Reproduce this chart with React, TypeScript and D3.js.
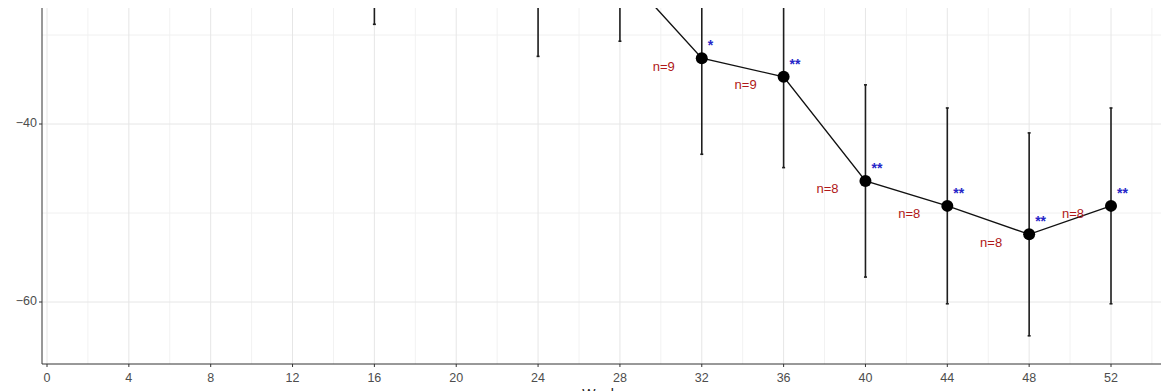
import React from 'react';
import * as d3 from 'd3';

const weeks = [16, 24, 28, 32, 36, 40, 44, 48, 52];
const meanChange = [-20.8, -24.2, -22.5, -32.6, -34.7, -46.4, -49.2, -52.4, -49.2];
const errorSize = [8.0, 8.2, 8.2, 10.8, 10.2, 10.8, 11.0, 11.4, 11.0];
const sigLabels = ['', '', '', '*', '**', '**', '**', '**', '**'];
const nLabels = ['', '', '', 'n=9', 'n=9', 'n=8', 'n=8', 'n=8', 'n=8'];
const xTicks = [0, 4, 8, 12, 16, 20, 24, 28, 32, 36, 40, 44, 48, 52];
const xMinor = [2, 6, 10, 14, 18, 22, 26, 30, 34, 38, 42, 46, 50, 54];
const yTicks = [-40, -60];
const yMinor = [-30, -50];
const xTitle = 'Week';

const W = 1161;
const H = 391;
const panel = { left: 42, right: 1161, top: 8, bottom: 364 };
const font = '"Liberation Sans", Arial, Helvetica, sans-serif';

export default function App() {
  const x = d3.scaleLinear().domain([0, 52]).range([47, 1111]);
  const y = d3.scaleLinear().domain([-40, -60]).range([124, 302]);

  const data = weeks.map((w, i) => ({
    w,
    m: meanChange[i],
    e: errorSize[i],
    sig: sigLabels[i],
    n: nLabels[i],
  }));

  const line = d3
    .line<{ w: number; m: number }>()
    .x((d) => x(d.w))
    .y((d) => y(d.m));

  return (
    <svg
      width={W}
      height={H}
      style={{ position: 'absolute', left: 0, top: 0, background: '#fff' }}
      fontFamily={font}
    >
      <defs>
        <clipPath id="panel-clip">
          <rect
            x={panel.left}
            y={panel.top}
            width={panel.right - panel.left}
            height={panel.bottom - panel.top}
          />
        </clipPath>
      </defs>
      <rect width={W} height={H} fill="#fff" />

      {/* grid */}
      <g>
        {xMinor.map((t) => (
          <line key={'xm' + t} x1={x(t)} x2={x(t)} y1={panel.top} y2={panel.bottom} stroke="#f2f2f2" strokeWidth={1} />
        ))}
        {yMinor.map((t) => (
          <line key={'ym' + t} x1={panel.left} x2={panel.right} y1={y(t)} y2={y(t)} stroke="#f0f0f0" strokeWidth={1} />
        ))}
        {xTicks.map((t) => (
          <line key={'xg' + t} x1={x(t)} x2={x(t)} y1={panel.top} y2={panel.bottom} stroke="#e6e6e6" strokeWidth={1} />
        ))}
        {yTicks.map((t) => (
          <line key={'yg' + t} x1={panel.left} x2={panel.right} y1={y(t)} y2={y(t)} stroke="#e6e6e6" strokeWidth={1} />
        ))}
      </g>

      {/* data */}
      <g clipPath="url(#panel-clip)">
        {data.map((d) => (
          <g key={'eb' + d.w} stroke="#1e1e1e" strokeWidth={1.6}>
            <line x1={x(d.w)} x2={x(d.w)} y1={y(d.m + d.e)} y2={y(d.m - d.e)} />
            <line x1={x(d.w) - 1.5} x2={x(d.w) + 1.5} y1={y(d.m + d.e)} y2={y(d.m + d.e)} />
            <line x1={x(d.w) - 1.5} x2={x(d.w) + 1.5} y1={y(d.m - d.e)} y2={y(d.m - d.e)} />
          </g>
        ))}
        <path d={line(data) || ''} fill="none" stroke="#111" strokeWidth={1.4} />
        {data.map((d) => (
          <circle key={'pt' + d.w} cx={x(d.w)} cy={y(d.m)} r={6} fill="#000" />
        ))}
      </g>

      {/* annotations */}
      {data.map((d) =>
        d.sig ? (
          <text
            key={'sig' + d.w}
            x={x(d.w) + 6}
            y={y(d.m) - 8}
            fontSize={14}
            fontWeight="bold"
            fill="#2626c8"
          >
            {d.sig}
          </text>
        ) : null
      )}
      {data.map((d) =>
        d.n ? (
          <text
            key={'n' + d.w}
            x={x(d.w) - 38}
            y={y(d.m) + 9}
            fontSize={13}
            fill="#b01818"
            textAnchor="middle"
            dominantBaseline="middle"
          >
            {d.n}
          </text>
        ) : null
      )}

      {/* axes */}
      <line x1={panel.left} x2={panel.left} y1={panel.top} y2={panel.bottom} stroke="#333" strokeWidth={1} />
      <line x1={panel.left} x2={panel.right} y1={panel.bottom} y2={panel.bottom} stroke="#333" strokeWidth={1} />
      {xTicks.map((t) => (
        <g key={'xt' + t}>
          <line x1={x(t)} x2={x(t)} y1={panel.bottom} y2={panel.bottom + 3} stroke="#333" />
          <text x={x(t)} y={panel.bottom + 18} fontSize={12.5} fill="#4d4d4d" textAnchor="middle">
            {t}
          </text>
        </g>
      ))}
      {yTicks.map((t) => (
        <g key={'yt' + t}>
          <line x1={panel.left - 3} x2={panel.left} y1={y(t)} y2={y(t)} stroke="#333" />
          <text x={panel.left - 5} y={y(t)} fontSize={12.5} fill="#4d4d4d" textAnchor="end" dominantBaseline="middle">
            {'\u2212' + Math.abs(t)}
          </text>
        </g>
      ))}
      <text x={600} y={399} fontSize={14} fill="#222" textAnchor="middle">
        {xTitle}
      </text>
    </svg>
  );
}
